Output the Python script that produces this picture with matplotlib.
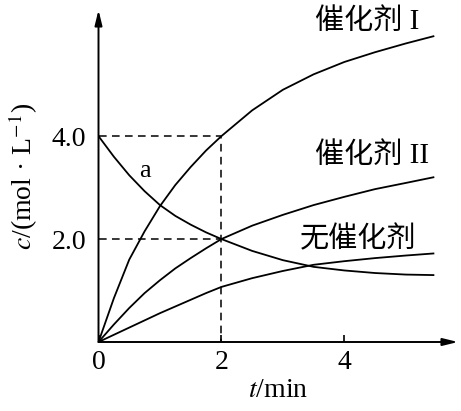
import numpy as np
import matplotlib
matplotlib.use("Agg")
import matplotlib.pyplot as plt

plt.rcParams['font.family'] = ['Liberation Serif', 'DejaVu Serif']
plt.rcParams['mathtext.fontset'] = 'stix'

# time points (min)
t = [0, 0.25, 0.5, 0.75, 1.0, 1.25, 1.5, 1.75, 2.0, 2.5, 3.0, 3.5, 4.0, 4.5, 5.0, 5.45]

# reactant a (mol/L)
c_a = [4.0, 3.6, 3.24, 2.93, 2.66, 2.45, 2.28, 2.13, 2.0, 1.77, 1.59, 1.46, 1.39, 1.34, 1.31, 1.30]
# product with catalyst I
c_cat1 = [0, 0.85, 1.6, 2.15, 2.64, 3.05, 3.4, 3.72, 4.0, 4.5, 4.9, 5.2, 5.44, 5.63, 5.8, 5.94]
# product with catalyst II
c_cat2 = [0, 0.34, 0.66, 0.95, 1.2, 1.43, 1.63, 1.82, 2.0, 2.26, 2.47, 2.66, 2.82, 2.97, 3.09, 3.2]
# product without catalyst
c_none = [0, 0.14, 0.28, 0.42, 0.56, 0.69, 0.82, 0.95, 1.07, 1.24, 1.38, 1.50, 1.57, 1.63, 1.68, 1.72]

curve_labels = ['催化剂 I', '催化剂 II', '无催化剂']
label_pos = [(3.52, 6.22), (3.52, 3.63), (3.28, 1.98)]

xmax, ymax = 5.85, 6.45

fig = plt.figure(figsize=(4.61, 4.11), dpi=100)
W, H = 461, 411
ax = fig.add_axes([98.5 / W, (H - 342) / H, (458 - 98.5) / W, 332 / H])
ax.set_xlim(0, xmax)
ax.set_ylim(0, ymax)
for s in ax.spines.values():
    s.set_visible(False)

# axes with arrows
arrow = dict(arrowstyle='-|>,head_length=0.9,head_width=0.22', lw=1.4, color='k',
             shrinkA=0, shrinkB=0)
ax.annotate('', xy=(1, 0), xytext=(0, 0), xycoords='axes fraction', arrowprops=arrow)
ax.annotate('', xy=(0, 1), xytext=(0, 0), xycoords='axes fraction', arrowprops=arrow)

lw = 1.3
ax.plot(t, c_a, color='k', lw=lw)
ax.plot(t, c_cat1, color='k', lw=lw)
ax.plot(t, c_cat2, color='k', lw=lw)
ax.plot(t, c_none, color='k', lw=lw)

# dashed guides
dash = dict(color='k', lw=1.1, ls=(0, (5, 3.5)))
ax.plot([0, 2, 2], [4, 4, 0], **dash)
ax.plot([0, 2], [2, 2], **dash)

ax.set_xticks([0, 2, 4])
ax.set_xticklabels(['0', '2', '4'])
ax.set_yticks([2, 4])
ax.set_yticklabels(['2.0', '4.0'])
ax.tick_params(axis='x', direction='in', length=5, width=1.2, pad=6, labelsize=20)
ax.tick_params(axis='y', length=0, pad=9, labelsize=20)

ax.set_xlabel(r'$t$/min', fontsize=20, labelpad=2)
ax.set_ylabel(r'$c$/(mol · L$^{-1}$)', fontsize=20, labelpad=8)

ax.text(0.76, 3.32, 'a', fontsize=19, ha='center', va='center')
for lab, (x, y) in zip(curve_labels, label_pos):
    ax.text(x, y, lab, fontsize=21, ha='left', va='center',
            family=['Liberation Serif', 'Noto Sans CJK SC'])

fig.savefig('out.png', dpi=100)
